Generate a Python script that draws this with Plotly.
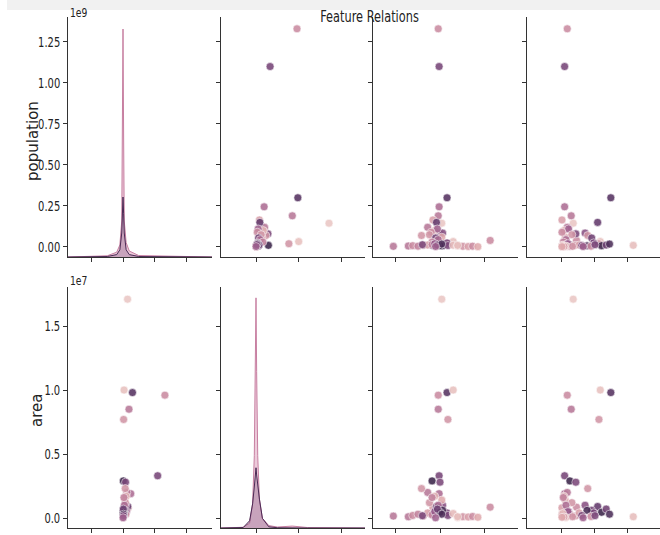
import plotly.graph_objects as go

# ---------------- data ----------------
# population in units of 1e9, area in units of 1e7, two further features (x-labels cropped)
population_e9 = [1.33, 1.10, 0.30, 0.145, 0.033, 0.19, 0.02, 0.245,
                 0.040, 0.010, 0.080, 0.165, 0.120, 0.150, 0.085, 0.070,
                 0.060, 0.100, 0.110, 0.090, 0.075, 0.055, 0.045, 0.030, 0.025,
                 0.004, 0.006, 0.008, 0.005, 0.010, 0.012, 0.015, 0.020, 0.007,
                 0.009, 0.011, 0.006, 0.004, 0.003, 0.005, 0.002, 0.010, 0.008,
                 0.012, 0.018, 0.014, 0.003]
area_e7 = [0.96, 0.33, 0.98, 1.71, 1.00, 0.85, 0.77, 0.19,
           0.085, 0.29, 0.28, 0.08, 0.20, 0.09, 0.10, 0.23,
           0.14, 0.17, 0.05, 0.03, 0.12, 0.06, 0.10, 0.16, 0.04,
           0.015, 0.010, 0.020, 0.030, 0.015, 0.040, 0.025, 0.050, 0.060,
           0.020, 0.035, 0.005, 0.010, 0.008, 0.012, 0.006, 0.010, 0.045,
           0.070, 0.030, 0.018, 0.002]
feature3 = [48, 49, 58, 52, 65, 48, 59, 49,
            107, 41, 50, 42, 36, 46, 53, 29,
            52, 44, 47, 40, 38, 45, 48, 41, 58,
            -3, 14, 19, 25, 31, 36, 41, 44, 53,
            59, 65, 70, 76, 82, 87, 93, 70, 50,
            47, 52, 30, 45]
feature4 = [8, 4, 74, 17, 58, 14, 56, 4,
            22, 12, 21, 0, 8, 54, 35, 39,
            5, 3, 10, 0, 15, 45, 6, 2, 48,
            8, 3, 0, 12, 20, 26, 5, 9, 38,
            30, 1, 6, 16, 3, 44, 0, 108, 60,
            67, 72, 50, 32]
hue_value = [0.35, 0.72, 0.85, 0.05, 0.08, 0.45, 0.30, 0.50,
             0.35, 0.95, 0.70, 0.25, 0.45, 0.80, 0.65, 0.30,
             0.20, 0.15, 0.55, 0.35, 0.30, 0.75, 0.50, 0.40, 0.70,
             0.45, 0.45, 0.35, 0.40, 0.30, 0.25, 0.40, 0.60, 0.90,
             0.70, 0.12, 0.05, 0.30, 0.25, 0.35, 0.20, 0.10, 0.95,
             0.75, 0.88, 0.70, 0.55]

# diagonal density curves (relative heights)
pop_kde_x = [-1.746, -0.5, -0.2, -0.1, -0.04, -0.02, 0.0, 0.02, 0.04, 0.1, 0.2, 0.5, 2.825]
pop_kde_light = [0, 0.005, 0.02, 0.05, 0.15, 0.5, 0.95, 0.5, 0.15, 0.06, 0.025, 0.006, 0]
pop_kde_dark = [0, 0.002, 0.01, 0.03, 0.1, 0.18, 0.25, 0.18, 0.1, 0.03, 0.01, 0.002, 0]
area_kde_x = [-0.82, -0.3, -0.15, -0.08, -0.04, -0.015, 0.0, 0.015, 0.04, 0.08, 0.15, 0.3, 0.5, 0.85, 1.2, 2.553]
area_kde_light = [0, 0.003, 0.02, 0.1, 0.3, 0.65, 0.955, 0.65, 0.3, 0.12, 0.04, 0.01, 0.004, 0.008, 0.002, 0]
area_kde_dark = [0, 0.002, 0.03, 0.1, 0.17, 0.22, 0.25, 0.22, 0.17, 0.12, 0.04, 0.005, 0.001, 0.002, 0, 0]

row_names = ["population", "area"]
pop_ticks = [0, 0.25, 0.5, 0.75, 1.0, 1.25]
pop_ticklabels = ["0.00", "0.25", "0.50", "0.75", "1.00", "1.25"]
area_ticks = [0, 0.5, 1.0, 1.5]
area_ticklabels = ["0.0", "0.5", "1.0", "1.5"]
col_ticks = [[-1, 0, 1, 2], [0, 1, 2], [0, 50, 100], [0, 50, 100]]
title_text = "Feature Relations"

# ---------------- layout geometry ----------------
W, H = 660, 535
col_px = [(68, 212), (221, 365), (373, 518), (527, 660)]
row_px = [(17, 257), (287, 528)]
x_ranges = [[-1.746, 2.825], [-0.82, 2.553], [-26.1, 138.6], [-53, 148.5]]
y_ranges = [[-0.061, 1.402], [-0.078, 1.805]]

FONT = "DejaVu Sans"
AX = "#333333"
cscale = [[0, '#edd1cb'], [0.2, '#e0aaae'], [0.4, '#c2829d'],
          [0.6, '#95588a'], [0.8, '#633a6c'], [1, '#2d1e3e']]

cols_data = [population_e9, area_e7, feature3, feature4]
rows_data = [population_e9, area_e7]

fig = go.Figure()
layout = dict(width=W, height=H, margin=dict(l=0, r=0, t=0, b=0),
              paper_bgcolor="white", plot_bgcolor="white", showlegend=False,
              font=dict(family=FONT, size=14, color="#222"))


def value_axis(r, c, anchor, overlay=None):
    d = dict(domain=[1 - row_px[r][1] / H, 1 - row_px[r][0] / H], anchor=anchor,
             range=y_ranges[r], showline=True, linecolor=AX, linewidth=1,
             ticks="outside", ticklen=4, tickcolor=AX, tickwidth=1,
             tickvals=pop_ticks if r == 0 else area_ticks,
             ticktext=pop_ticklabels if r == 0 else area_ticklabels,
             showticklabels=(c == 0), tickfont=dict(size=14, family=FONT, color="#222"),
             showgrid=False, zeroline=False)
    if overlay:
        d["overlaying"] = overlay
    return d


extra = 9
overlay_axes = []
for r in range(2):
    for c in range(4):
        idx = r * 4 + c + 1
        s = "" if idx == 1 else str(idx)
        layout["xaxis" + s] = dict(domain=[col_px[c][0] / W, col_px[c][1] / W], anchor="y" + s,
                                   range=x_ranges[c], showline=True, linecolor=AX, linewidth=1,
                                   ticks="outside", ticklen=4, tickcolor=AX, tickwidth=1,
                                   tickvals=col_ticks[c], showticklabels=False,
                                   showgrid=False, zeroline=False)
        if r == c:
            # diagonal: primary y axis carries the density, an overlay shows the row scale
            layout["yaxis" + s] = dict(domain=[1 - row_px[r][1] / H, 1 - row_px[r][0] / H],
                                       anchor="x" + s, range=[0, 1], visible=False)
            layout["yaxis" + str(extra)] = value_axis(r, c, "x" + s, overlay="y" + s)
            overlay_axes.append(("x" + s, "y" + str(extra)))
            extra += 1
            continue
        layout["yaxis" + s] = value_axis(r, c, "x" + s)
        fig.add_trace(go.Scatter(
            x=cols_data[c], y=rows_data[r], mode="markers",
            xaxis="x" + s, yaxis="y" + s,
            marker=dict(size=8, color=hue_value, colorscale=cscale, cmin=0, cmax=1,
                        opacity=0.88, line=dict(color="white", width=0.6)),
            hoverinfo="skip"))

for xs, ys, ax_x, ax_y in [(pop_kde_x, pop_kde_light, "x", "y"), (area_kde_x, area_kde_light, "x6", "y6")]:
    fig.add_trace(go.Scatter(x=xs, y=ys, xaxis=ax_x, yaxis=ax_y, mode="lines",
                             line=dict(color="#c77fa1", width=1), fill="tozeroy",
                             fillcolor="rgba(214,140,175,0.45)", hoverinfo="skip"))
for xs, ys, ax_x, ax_y in [(pop_kde_x, pop_kde_dark, "x", "y"), (area_kde_x, area_kde_dark, "x6", "y6")]:
    fig.add_trace(go.Scatter(x=xs, y=ys, xaxis=ax_x, yaxis=ax_y, mode="lines",
                             line=dict(color="#4b2a55", width=1), fill="tozeroy",
                             fillcolor="rgba(90,45,95,0.25)", hoverinfo="skip"))
# empty traces so that the overlaid row-scale axes get drawn
for ax_x, ax_y in overlay_axes:
    fig.add_trace(go.Scatter(x=[None], y=[None], xaxis=ax_x, yaxis=ax_y, mode="markers",
                             hoverinfo="skip"))

annotations = [
    dict(text=title_text, x=370 / W, y=1 - 16 / H, xref="paper", yref="paper", showarrow=False,
         xanchor="center", yanchor="middle", font=dict(size=16, family=FONT, color="#222")),
    dict(text="1e9", x=68 / W, y=1 - 12 / H, xref="paper", yref="paper", showarrow=False,
         xanchor="left", yanchor="middle", font=dict(size=13, family=FONT, color="#222")),
    dict(text="1e7", x=68 / W, y=1 - 280 / H, xref="paper", yref="paper", showarrow=False,
         xanchor="left", yanchor="middle", font=dict(size=13, family=FONT, color="#222")),
    dict(text=row_names[0], x=33 / W, y=1 - 141 / H, xref="paper", yref="paper", showarrow=False,
         textangle=-90, xanchor="center", yanchor="middle", font=dict(size=15, family=FONT, color="#222")),
    dict(text=row_names[1], x=37 / W, y=1 - 411 / H, xref="paper", yref="paper", showarrow=False,
         textangle=-90, xanchor="center", yanchor="middle", font=dict(size=15, family=FONT, color="#222")),
]
layout["annotations"] = annotations
layout["shapes"] = [dict(type="rect", xref="paper", yref="paper", x0=7 / W, x1=1, y0=1 - 10 / H, y1=1,
                         fillcolor="#f1f1f1", line=dict(width=0), layer="above")]

fig.update_layout(**layout)

# the reference picture is horizontally condensed: squeeze horizontal text the same way
post_js = """
var gd = document.getElementById('{plot_id}');
var S = 0.71;
function squeeze(el, mode) {
  var t = el.getAttribute('transform') || '';
  if (t.indexOf('scale(' + S) >= 0) return;
  var bb = el.getBBox();
  var ax = mode === 'end' ? bb.x + bb.width : (mode === 'start' ? bb.x : bb.x + bb.width / 2);
  el.setAttribute('transform', t + ' translate(' + ax + ',0) scale(' + S + ',1) translate(' + (-ax) + ',0)');
}
function squeezeAll() {
  gd.querySelectorAll('g[class^="y"][class$="tick"] text').forEach(function (el) { squeeze(el, 'end'); });
  gd.querySelectorAll('.annotation-text').forEach(function (el) {
    var s = el.textContent;
    if (s === 'population' || s === 'area') return;
    squeeze(el, s.indexOf('1e') === 0 ? 'start' : 'middle');
  });
}
squeezeAll();
gd.on('plotly_afterplot', squeezeAll);
setTimeout(squeezeAll, 50);
setTimeout(squeezeAll, 300);
"""
fig.write_html("out.html", post_script=post_js)
